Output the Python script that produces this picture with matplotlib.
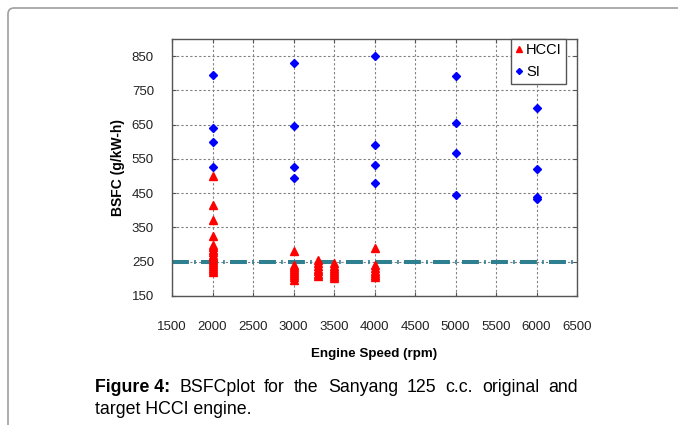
import matplotlib
matplotlib.use('Agg')
import matplotlib.pyplot as plt
from matplotlib.patches import FancyBboxPatch

plt.rcParams['font.family'] = ['Liberation Sans', 'DejaVu Sans']

# SI engine (original)
si_speed = [2000, 2000, 2000, 2000,
            3000, 3000, 3000, 3000,
            4000, 4000, 4000, 4000,
            5000, 5000, 5000, 5000,
            6000, 6000, 6000, 6000]
si_bsfc = [795, 640, 600, 525,
           830, 645, 527, 495,
           851, 592, 533, 480,
           792, 656, 568, 444,
           698, 521, 440, 432]

# HCCI engine (target)
hcci_speed = ([2000] * 17 + [3000] * 9 + [3300] * 7 + [3500] * 8 + [4000] * 7)
hcci_bsfc = [501, 416, 372, 326, 300, 292, 285, 278, 270, 263, 256, 250, 244, 238, 232, 226, 220,
             280, 240, 234, 228, 222, 216, 210, 204, 198,
             255, 246, 238, 230, 222, 214, 208,
             245, 239, 233, 227, 221, 215, 209, 203,
             290, 240, 232, 224, 216, 210, 204]

target_bsfc = 250
x_ticks = [1500, 2000, 2500, 3000, 3500, 4000, 4500, 5000, 5500, 6000, 6500]
y_ticks = [150, 250, 350, 450, 550, 650, 750, 850]

caption_1 = ['BSFCplot', 'for', 'the', 'Sanyang', '125', 'c.c.', 'original', 'and']
caption_2 = 'target HCCI engine.'

fig = plt.figure(figsize=(6.78, 4.25), dpi=100)
ax = fig.add_axes([172 / 678, 1 - 296 / 425, 405 / 678, 257 / 425])

ax.axhline(target_bsfc, color='#2e7f90', lw=2.9, zorder=2,
           dashes=[4.2, 1.3, 0.4, 1.3])
ax.plot(hcci_speed, hcci_bsfc, '^', color='red', ms=5.5, mec='red', label='HCCI', zorder=3)
ax.plot(si_speed, si_bsfc, 'D', color='blue', ms=3.8, mec='blue', label='SI', zorder=3)

ax.set_xlim(1500, 6500)
ax.set_ylim(150, 900)
ax.set_xticks(x_ticks)
ax.set_yticks(y_ticks)
ax.grid(True, linestyle=(0, (2, 2)), color='#808080', lw=0.8)
ax.tick_params(direction='in', top=True, right=True, length=3, labelsize=9.5,
               labelcolor='#222222', color='#555555')
ax.tick_params(axis='x', pad=18)
ax.tick_params(axis='y', pad=13)
for s in ax.spines.values():
    s.set_color('#555555')
    s.set_linewidth(1)

ax.set_xlabel('Engine Speed (rpm)', fontsize=9.6, fontweight='bold', labelpad=11)
ax.set_ylabel('BSFC (g/kW-h)', fontsize=10, fontweight='bold', labelpad=5)

leg = ax.legend(loc='upper right', bbox_to_anchor=(0.973, 1.0), fontsize=10.5,
                markerscale=0.8, handlelength=0.5, handletextpad=0.25, borderpad=0.3,
                labelspacing=0.55, fancybox=False, framealpha=1, borderaxespad=0)
leg.get_frame().set_edgecolor('#555555')

# caption, first line justified between x=95 and x=578 px
y1 = 1 - 388 / 425
y2 = 1 - 410 / 425
head = fig.text(95 / 678, y1, 'Figure 4:', fontsize=12.8, fontweight='bold', va='center')
words = [fig.text(0, y1, w, fontsize=12.8, va='center') for w in caption_1]
fig.canvas.draw()
r = fig.canvas.get_renderer()
head_w = head.get_window_extent(r).width
widths = [t.get_window_extent(r).width for t in words]
gap = (578 - 95 - head_w - sum(widths)) / len(words)
x = 95 + head_w + gap
for t, w in zip(words, widths):
    t.set_x(x / 678)
    x += w + gap
fig.text(95 / 678, y2, caption_2, fontsize=12.8, va='center')

# page frame
frame = FancyBboxPatch((8, -30), 720, 425 - 8 + 30, boxstyle='round,pad=0,rounding_size=6',
                       transform=None, fill=False, edgecolor='#a0a0a0', lw=1.2)
fig.patches.append(frame)

fig.savefig('out.png', dpi=100)
